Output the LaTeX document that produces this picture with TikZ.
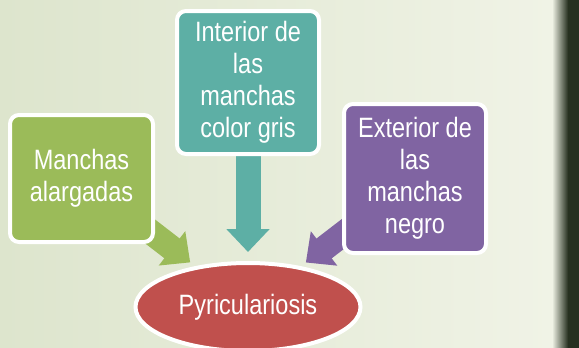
\documentclass[tikz,border=0pt]{standalone}
\usepackage{fontspec}
\setmainfont{Liberation Sans}[FakeStretch=0.84]
\usetikzlibrary{shapes.geometric, arrows.meta, positioning}

\definecolor{leafgreen}{HTML}{9BBB59}
\definecolor{spotteal}{HTML}{5DAFA5}
\definecolor{spotpurple}{HTML}{8064A2}
\definecolor{blastred}{HTML}{C0504D}
\definecolor{paleleaf}{RGB}{221,229,205}
\definecolor{lightleaf}{RGB}{240,243,230}
\definecolor{darkleaf}{RGB}{38,48,32}

\pgfdeclarelayer{backdrop}
\pgfdeclarelayer{arrowlayer}
\pgfsetlayers{backdrop,arrowlayer,main}

\begin{document}
\begin{tikzpicture}[x=1pt, y=-1pt,
    symptom/.style={rectangle, rounded corners=9pt, draw=white, line width=4pt,
        text=white, align=center, inner sep=0pt, font=\fontsize{28}{32}\selectfont},
    disease/.style={ellipse, draw=white, line width=4pt, fill=blastred, text=white,
        inner sep=0pt, font=\fontsize{28}{32}\selectfont},
    bigarrow/.style={line width=25pt, -{Triangle[width=42pt, length=23pt]}}]
        \useasboundingbox (0,0) rectangle (579,348);

        % Faded leaf backdrop
        \begin{pgfonlayer}{backdrop}
            \fill[left color=paleleaf, right color=lightleaf] (0,0) rectangle (552,348);
            \fill[left color=lightleaf, right color=darkleaf] (552,0) rectangle (568,348);
            \fill[darkleaf] (568,0) rectangle (579,348);
        \end{pgfonlayer}

        % Symptoms
        \node[symptom, fill=leafgreen, minimum width=143pt, minimum height=127pt] (manchas) at (81.5,178.5) {Manchas\\alargadas};
        \node[symptom, fill=spotteal, minimum width=142pt, minimum height=143pt] (interior) at (248,82.5) {Interior de\\las\\manchas\\color gris};
        \node[symptom, fill=spotpurple, minimum width=142pt, minimum height=149pt] (exterior) at (415,178.5) {Exterior de\\las\\manchas\\negro};

        % Disease
        \node[disease, minimum width=225pt, minimum height=88pt] (pyri) at (248,307) {Pyriculariosis};

        % Block arrows
        \begin{pgfonlayer}{arrowlayer}
            \draw[bigarrow, leafgreen, shorten >=73pt] (manchas.center) -- (pyri.center);
            \draw[bigarrow, spotteal, shorten >=55pt] (interior.center) -- (pyri.center);
            \draw[bigarrow, spotpurple, shorten >=73pt] (exterior.center) -- (pyri.center);
        \end{pgfonlayer}

    \end{tikzpicture}
\end{document}
